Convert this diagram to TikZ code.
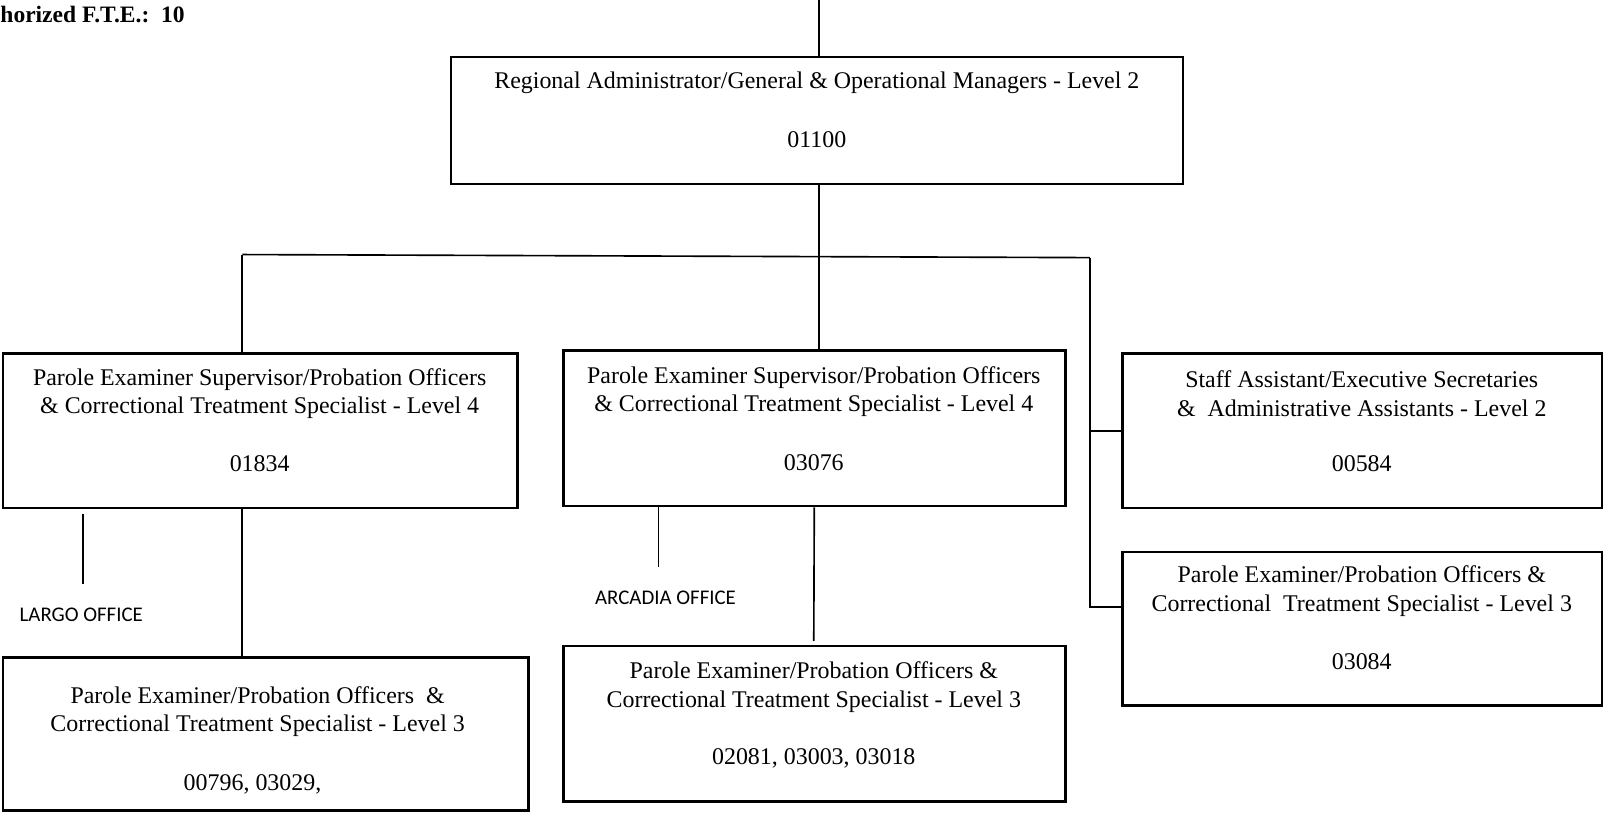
\documentclass[tikz,border=0pt]{standalone}
\usepackage{fontspec}
\setmainfont{Liberation Serif}
\newfontfamily\officefont{Carlito}
\begin{document}
\begin{tikzpicture}[x=0.5pt,y=-0.5pt,
  box/.style={draw, line width=1.2pt, inner sep=0pt},
  wire/.style={line width=0.8pt},
  txt/.style={align=center, inner sep=0pt, font=\fontsize{11.7}{14}\selectfont},
  office/.style={inner sep=0pt, font=\officefont\fontsize{10.2}{12}\selectfont},
  fte/.style={inner sep=0pt, anchor=east, font=\bfseries\fontsize{11.5}{13}\selectfont}]
\clip (0,0) rectangle (1568,795);
\fill[white] (0,0) rectangle (1568,795);

% position boxes
\node[box, minimum width=358pt,   minimum height=62pt]   (top) at (799,118)    {};
\node[box, minimum width=251.5pt, minimum height=75.5pt] (b1)  at (254.5,421.5) {};
\node[box, minimum width=245.5pt, minimum height=76pt]   (b2)  at (796.5,419)  {};
\node[box, minimum width=234.5pt, minimum height=75.5pt] (b3)  at (1332.5,421.5) {};
\node[box, minimum width=234.5pt, minimum height=75pt]   (b4)  at (1332.5,615) {};
\node[box, minimum width=257pt,   minimum height=75pt]   (b5)  at (260,718)    {};
\node[box, minimum width=245.5pt, minimum height=76pt]   (b6)  at (796.5,708)  {};

% box texts
\node[txt] (t0) at (799,81) {Regional Administrator/General \& Operational Managers - Level 2};
\node[txt] (n0) at (799,137) {01100};
\node[txt] (t1) at (254,385) {Parole Examiner Supervisor/Probation Officers\\\& Correctional Treatment Specialist - Level 4};
\node[txt] (n1) at (254,454) {01834};
\node[txt] (t2) at (796,383) {Parole Examiner Supervisor/Probation Officers\\\& Correctional Treatment Specialist - Level 4};
\node[txt] (n2) at (796,453) {03076};
\node[txt] (t3) at (1332,385) {Staff Assistant/Executive Secretaries\\\&\ \ Administrative Assistants - Level 2};
\node[txt] (n3) at (1332,454) {00584};
\node[txt] (t4) at (1332,578) {Parole Examiner/Probation Officers \&\\Correctional\ \ Treatment Specialist - Level 3};
\node[txt] (n4) at (1332,647) {03084};
\node[txt] (t5) at (252,696) {Parole Examiner/Probation Officers\ \ \&\\Correctional Treatment Specialist - Level 3};
\node[txt] (n5) at (247,767) {00796, 03029,};
\node[txt] (t6) at (796,672) {Parole Examiner/Probation Officers \&\\Correctional Treatment Specialist - Level 3};
\node[txt] (n6) at (796,742) {02081, 03003, 03018};

% header and office labels
\node[fte] (fte) at (181,14) {horized F.T.E.:\ \ 10};
\node[office] (largo) at (79.5,601) {LARGO OFFICE};
\node[office] (arcadia) at (651,585) {ARCADIA OFFICE};

% connector points
\coordinate (in)   at (801,-2);
\coordinate (busL) at (237,249);
\coordinate (busR) at (1066,252);
\coordinate (j4)   at (1066,594);
\coordinate (e6)   at (796,627);
\coordinate (lg1)  at (81,503);
\coordinate (lg2)  at (81,571);
\coordinate (ar1)  at (644,496);
\coordinate (ar2)  at (644,555);

% connectors
\draw[wire] (in) -- (in |- top.north);
\draw[wire] (in |- top.south) -- (in |- b2.north);
\draw[wire] (busL) -- (busR);
\draw[wire] (busL) -- (busL |- b1.north);
\draw[wire] (busR) -- (j4) -- (j4 -| b4.west);
\draw[wire] (busR |- b3.west) -- (b3.west);
\draw[wire] (busL |- b1.south) -- (busL |- b5.north);
\draw[wire] (b2.south) -- (e6);
\draw[wire] (lg1) -- (lg2);
\draw[wire] (ar1) -- (ar2);
\end{tikzpicture}
\end{document}
